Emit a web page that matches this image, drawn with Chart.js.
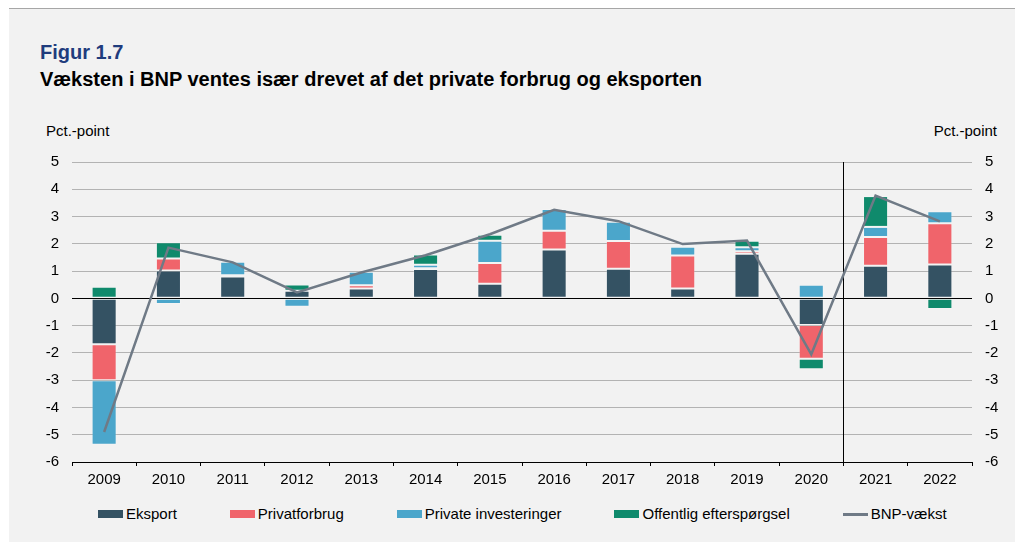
<!DOCTYPE html>
<html lang="da">
<head>
<meta charset="utf-8">
<script src="https://cdn.jsdelivr.net/npm/chart.js@4/dist/chart.umd.min.js"></script>
<style>
    html, body { margin: 0; padding: 0; background: #fff; }
    body { width: 1015px; height: 542px; position: relative; overflow: hidden; font-family: "Liberation Sans", Arial, sans-serif; }
    #panel { position: absolute; left: 9px; top: 8px; right: 0; bottom: 0; background: #f2f2f2; border-top: 1px solid #a6a6a6; }
    .txt { position: absolute; white-space: nowrap; color: #000; }
    #fig { left: 40px; top: 42px; font-size: 20px; line-height: 20px; font-weight: bold; color: #1f3c7d; }
    #sub { left: 40px; top: 69px; font-size: 20px; line-height: 20px; font-weight: bold; }
    .unit { top: 122px; font-size: 15px; line-height: 18px; }
    #unitL { left: 46px; }
    #unitR { right: 18px; }
    #chart { position: absolute; left: 0; top: 0; }
    #legend { position: absolute; left: 98px; top: 505px; display: flex; align-items: center; gap: 53px; font-size: 15px; line-height: 18px; }
    #legend .item { display: flex; align-items: center; }
    #legend .mark { display: inline-block; width: 25px; height: 8px; margin-right: 3px; }
    #legend .mark.line { height: 3px; }
</style>
</head>
<body>
<div id="panel"></div>
<div class="txt" id="fig">Figur 1.7</div>
<div class="txt" id="sub">Væksten i BNP ventes især drevet af det private forbrug og eksporten</div>
<div class="txt unit" id="unitL">Pct.-point</div>
<div class="txt unit" id="unitR">Pct.-point</div>
<canvas id="chart" width="1015" height="500"></canvas>
<div id="legend"></div>
<script>
// Bidrag til BNP-vækst, pct.-point
const years = ['2009', '2010', '2011', '2012', '2013', '2014', '2015', '2016', '2017', '2018', '2019', '2020', '2021', '2022'];
const eksport = [-1.68, 1.02, 0.80, 0.28, 0.36, 1.08, 0.54, 1.79, 1.09, 0.36, 1.64, -0.98, 1.20, 1.24];
const privatforbrug = [-1.32, 0.44, 0.05, 0.00, 0.12, 0.02, 0.76, 0.69, 1.01, 1.21, 0.09, -1.23, 1.05, 1.51];
const investeringer = [-2.37, -0.21, 0.49, -0.31, 0.50, 0.13, 0.81, 0.80, 0.71, 0.32, 0.14, 0.50, 0.37, 0.44];
const offentlig = [0.43, 0.60, 0.00, 0.23, -0.08, 0.38, 0.22, -0.05, 0.00, 0.08, 0.24, -0.39, 1.13, -0.39];
const bnpVaekst = [-4.9, 1.86, 1.32, 0.22, 0.95, 1.58, 2.35, 3.25, 2.83, 1.99, 2.12, -2.05, 3.77, 2.82];

const GRID = '#b3b3b3';
const tickFont = { family: '"Liberation Sans", Arial, sans-serif', size: 15 };

function barSet(label, data, color) {
    return {
        type: 'bar',
        label: label,
        data: data,
        backgroundColor: color,
        borderColor: 'rgba(255,255,255,0.18)',
        borderWidth: 1,
        borderSkipped: false,
        barPercentage: 0.39,
        categoryPercentage: 1
    };
}

// vertical divider between actual figures and forecast (2020 | 2021)
const forecastLine = {
    id: 'forecastLine',
    beforeDatasetsDraw(chart) {
        const x = chart.scales.x;
        const px = Math.round((x.getPixelForValue(11) + x.getPixelForValue(12)) / 2) + 0.5;
        const ctx = chart.ctx;
        ctx.save();
        ctx.strokeStyle = '#000';
        ctx.lineWidth = 1;
        ctx.beginPath();
        ctx.moveTo(px, chart.chartArea.top);
        ctx.lineTo(px, chart.chartArea.bottom);
        ctx.stroke();
        ctx.restore();
    }
};

// legend in html, so spacing can follow the original
const htmlLegend = {
    id: 'htmlLegend',
    afterUpdate(chart) {
        const box = document.getElementById('legend');
        box.innerHTML = '';
        chart.data.datasets.forEach(ds => {
            const item = document.createElement('div');
            item.className = 'item';
            const mark = document.createElement('span');
            mark.className = ds.type === 'line' ? 'mark line' : 'mark';
            mark.style.background = ds.type === 'line' ? ds.borderColor : ds.backgroundColor;
            item.appendChild(mark);
            item.appendChild(document.createTextNode(ds.label));
            box.appendChild(item);
        });
    }
};

new Chart(document.getElementById('chart'), {
    data: {
        labels: years,
        datasets: [
            barSet('Eksport', eksport, '#345263'),
            barSet('Privatforbrug', privatforbrug, '#f0646b'),
            barSet('Private investeringer', investeringer, '#4ba6cb'),
            barSet('Offentlig efterspørgsel', offentlig, '#0f8a6c'),
            {
                type: 'line',
                label: 'BNP-vækst',
                data: bnpVaekst,
                borderColor: '#6f7a86',
                backgroundColor: '#6f7a86',
                borderWidth: 2.5,
                pointRadius: 0,
                tension: 0,
                stack: 'bnp',
                order: -1
            }
        ]
    },
    options: {
        responsive: false,
        animation: false,
        layout: { padding: { top: 162, left: 0, right: 0, bottom: 0 } },
        plugins: {
            legend: { display: false },
            tooltip: { enabled: false }
        },
        scales: {
            x: {
                stacked: true,
                offset: true,
                border: { display: true, color: '#000', width: 1 },
                grid: { offset: true, drawOnChartArea: false, color: '#000', tickLength: 4 },
                ticks: { color: '#000', font: tickFont, padding: 5, maxRotation: 0 },
                afterFit: scale => { scale.height = 38; }
            },
            y: {
                stacked: true,
                position: 'left',
                min: -6,
                max: 5,
                border: { display: false },
                grid: {
                    drawTicks: false,
                    color: ctx => (ctx.tick.value === 0 || ctx.tick.value === -6) ? '#000' : GRID
                },
                ticks: { stepSize: 1, color: '#000', font: tickFont, padding: 13 },
                afterFit: scale => { scale.width = 72; }
            },
            y2: {
                position: 'right',
                min: -6,
                max: 5,
                border: { display: false },
                grid: { display: false, drawTicks: false },
                ticks: { stepSize: 1, color: '#000', font: tickFont, padding: 13 },
                afterFit: scale => { scale.width = 43; }
            }
        }
    },
    plugins: [forecastLine, htmlLegend]
});
</script>
</body>
</html>
